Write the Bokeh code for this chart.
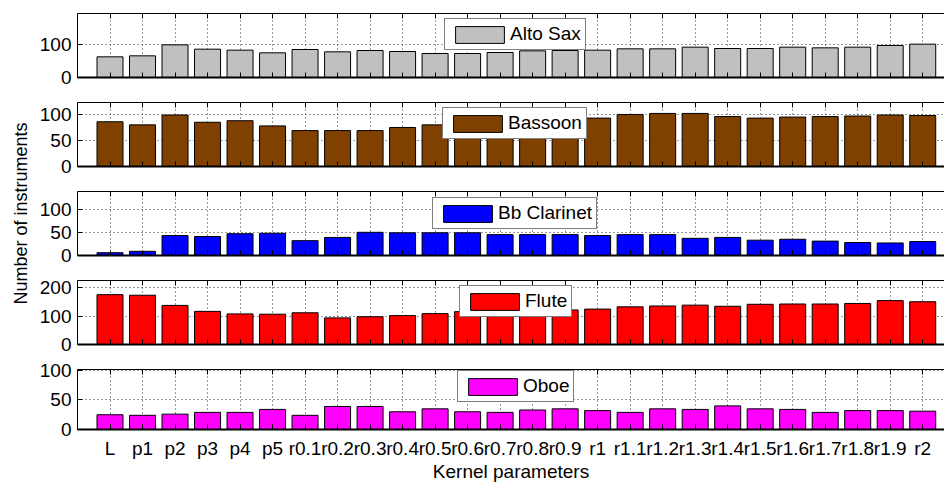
import math

from bokeh.embed import file_html
from bokeh.layouts import column, row
from bokeh.models import (ColumnDataSource, FixedTicker, Label, Legend,
                          LegendItem, LinearAxis, Range1d)
from bokeh.plotting import figure
from bokeh.resources import INLINE

# Kernel parameter settings along the x axis
params = ["L", "p1", "p2", "p3", "p4", "p5",
          "r0.1", "r0.2", "r0.3", "r0.4", "r0.5", "r0.6", "r0.7", "r0.8", "r0.9",
          "r1", "r1.1", "r1.2", "r1.3", "r1.4", "r1.5", "r1.6", "r1.7", "r1.8", "r1.9", "r2"]

# Number of instruments per kernel parameter, one list per instrument class
alto_sax = [62, 65, 98, 85, 82, 74, 84, 77, 81, 78, 72, 72, 75, 80, 81,
            82, 86, 86, 91, 87, 87, 91, 89, 91, 96, 100]
bassoon = [86, 80, 99, 85, 88, 78, 69, 69, 69, 75, 80, 80, 84, 88, 91,
           93, 100, 102, 102, 96, 93, 95, 96, 97, 99, 98]
bb_clarinet = [6, 9, 43, 41, 47, 48, 32, 39, 50, 49, 49, 49, 45, 45, 45,
               43, 45, 45, 37, 39, 33, 35, 31, 28, 27, 30]
flute = [176, 174, 138, 117, 108, 107, 112, 94, 98, 102, 109, 116, 118, 120, 122,
         125, 133, 136, 139, 135, 142, 143, 143, 145, 155, 151]
oboe = [25, 24, 26, 29, 29, 34, 24, 39, 39, 30, 35, 30, 29, 33, 35,
        32, 29, 35, 34, 40, 35, 34, 29, 32, 32, 31]

instruments = ["Alto Sax", "Bassoon", "Bb Clarinet", "Flute", "Oboe"]
series = [alto_sax, bassoon, bb_clarinet, flute, oboe]
colors = ["#c0c0c0", "#804000", "#0000ff", "#ff0000", "#ff00ff"]
y_max = [192, 123, 138, 226, 101.6]
y_ticks = [[0, 100], [0, 50, 100], [0, 50, 100], [0, 100, 200], [0, 50, 100]]

FONT = "Liberation Sans"
positions = list(range(1, len(params) + 1))

# legend box lower-left corner, in pixels from the panel's lower-left corner
legend_pos = [(367, 27), (365, 27), (355, 26), (382, 27), (380, 27)]


def style_axis(ax):
    ax.major_tick_in = 5
    ax.major_tick_out = 0
    ax.minor_tick_in = 0
    ax.minor_tick_out = 0
    ax.axis_line_color = "black"
    ax.major_tick_line_color = "black"
    ax.major_label_text_color = "black"
    ax.major_label_text_font = FONT


def hide_labels(ax):
    # tick marks only: no tick label is painted
    ax.major_label_text_color = None
    ax.major_label_text_font_size = "1px"
    ax.major_label_standoff = 0


def panel(name, counts, color, ymax, yticks, lpos, last):
    p = figure(width=914, height=128 if last else 89,
               x_range=Range1d(0, 26.67), y_range=Range1d(0, ymax),
               output_backend="svg", toolbar_location=None,
               min_border_left=47, min_border_right=0, min_border_top=13,
               min_border_bottom=51 if last else 12)
    p.outline_line_color = None
    p.background_fill_color = "white"

    src = ColumnDataSource(dict(x=positions, count=counts))
    r = p.vbar(x="x", top="count", width=0.8, bottom=0, source=src,
               fill_color=color, line_color="black", line_width=1)

    # dotted grid at every tick
    p.xgrid.ticker = FixedTicker(ticks=positions)
    p.ygrid.ticker = FixedTicker(ticks=yticks)
    for g in (p.xgrid[0], p.ygrid[0]):
        g.grid_line_color = "#333333"
        g.grid_line_dash = "1 3"
        g.grid_line_width = 1

    xb = p.xaxis[0]
    xb.ticker = FixedTicker(ticks=positions, minor_ticks=[])
    style_axis(xb)
    xb.axis_line_width = 2
    if last:
        xb.major_label_overrides = {pos: lab for pos, lab in zip(positions, params)}
        xb.major_label_text_font_size = "19px"
        xb.major_label_standoff = 8
        xb.axis_label = "Kernel parameters"
        xb.axis_label_text_font = FONT
        xb.axis_label_text_font_size = "19px"
        xb.axis_label_text_font_style = "normal"
        xb.axis_label_text_color = "black"
        xb.axis_label_standoff = -1
    else:
        hide_labels(xb)

    yl = p.yaxis[0]
    yl.ticker = FixedTicker(ticks=yticks, minor_ticks=[])
    style_axis(yl)
    yl.major_label_text_font_size = "19px"
    yl.major_label_standoff = 6

    top = LinearAxis(ticker=FixedTicker(ticks=positions, minor_ticks=[]))
    style_axis(top)
    hide_labels(top)
    p.add_layout(top, "above")

    legend = Legend(items=[LegendItem(label=name, renderers=[r])],
                    location=lpos, margin=0, padding=4, spacing=0,
                    glyph_width=61, glyph_height=21, label_height=21,
                    label_standoff=0,
                    label_text_font=FONT, label_text_font_size="19px",
                    label_text_color="black",
                    border_line_color="black", border_line_width=1,
                    background_fill_color="white", background_fill_alpha=1)
    p.add_layout(legend, "center")
    return p


panels = [panel(n, s, c, m, t, lp, i == len(instruments) - 1)
          for i, (n, s, c, m, t, lp) in enumerate(
              zip(instruments, series, colors, y_max, y_ticks, legend_pos))]

# shared y-axis title on a narrow strip to the left of the panels
ylab = figure(width=30, height=484, x_range=Range1d(0, 30), y_range=Range1d(0, 484),
              output_backend="svg", toolbar_location=None, min_border=0,
              x_axis_type=None, y_axis_type=None)
ylab.outline_line_color = None
ylab.add_layout(Label(x=20, y=271, text="Number of instruments", angle=math.pi / 2,
                      text_align="center", text_baseline="middle",
                      text_font=FONT, text_font_size="18px", text_color="black"))

layout = row(ylab, column(*panels))

with open("out.html", "w") as f:
    f.write(file_html(layout, INLINE))
